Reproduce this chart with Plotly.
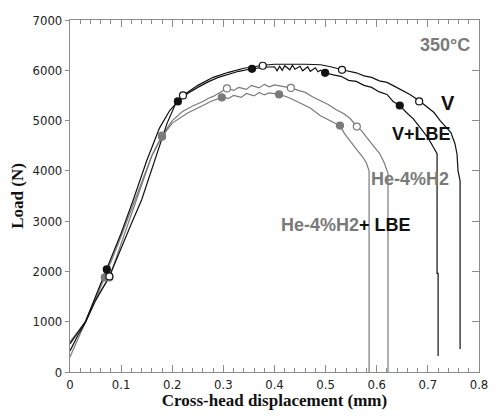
import plotly.graph_objects as go

# ---- data ----
v_x = [0, 0.015, 0.03, 0.05, 0.077, 0.10, 0.12, 0.14, 0.17, 0.19, 0.205, 0.221, 0.25, 0.28, 0.31, 0.34,
       0.36, 0.378, 0.40, 0.43, 0.46, 0.49, 0.51, 0.532, 0.56, 0.575, 0.59, 0.605, 0.62, 0.635, 0.65,
       0.665, 0.685, 0.70, 0.712, 0.724, 0.735, 0.745, 0.753, 0.757, 0.759, 0.763, 0.763]
v_y = [420, 720, 980, 1420, 1900, 2480, 2950, 3420, 4350, 4950, 5300, 5500, 5700, 5860, 5960, 6040,
       6070, 6100, 6120, 6125, 6120, 6110, 6070, 6010, 5950, 5890, 5860, 5790, 5760, 5680, 5600,
       5520, 5380, 5250, 5160, 5000, 4870, 4760, 4540, 4330, 4000, 3800, 456]
v_mx = [0.077, 0.221, 0.377, 0.532, 0.683]
v_my = [1900, 5500, 6090, 6010, 5380]

vl_x = [0, 0.015, 0.03, 0.05, 0.072, 0.10, 0.123, 0.15, 0.175, 0.195, 0.211, 0.23, 0.25, 0.27, 0.29,
        0.31, 0.33, 0.356, 0.38, 0.40, 0.405, 0.41, 0.415, 0.42, 0.43, 0.435, 0.44, 0.45, 0.455, 0.465,
        0.47, 0.48, 0.485, 0.49, 0.499, 0.515, 0.53, 0.545, 0.56, 0.575, 0.59, 0.605, 0.62, 0.632, 0.645,
        0.658, 0.671, 0.685, 0.70, 0.712, 0.718, 0.718, 0.720, 0.720]
vl_y = [560, 790, 1000, 1500, 2040, 2760, 3400, 4200, 4850, 5200, 5380, 5540, 5660, 5770, 5860,
        5920, 5980, 6030, 6060, 6070, 5990, 6080, 6000, 6090, 6010, 6100, 6020, 6080, 5990, 6070,
        5980, 6050, 5970, 6000, 5950, 5910, 5880, 5800, 5780, 5700, 5660, 5570, 5520, 5380, 5300,
        5160, 5040, 4860, 4660, 4450, 4340, 1960, 1960, 320]
vl_mx = [0.072, 0.211, 0.356, 0.499, 0.645]
vl_my = [2040, 5380, 6030, 5950, 5300]

he_x = [0, 0.015, 0.03, 0.05, 0.077, 0.10, 0.13, 0.16, 0.18, 0.20, 0.22, 0.24, 0.26, 0.27, 0.28,
        0.29, 0.307, 0.32, 0.33, 0.345, 0.355, 0.37, 0.38, 0.39, 0.40, 0.41, 0.432, 0.45, 0.46, 0.475,
        0.489, 0.505, 0.52, 0.535, 0.548, 0.561, 0.57, 0.58, 0.593, 0.606, 0.615, 0.622, 0.622]
he_y = [300, 650, 980, 1450, 1880, 2550, 3400, 4300, 4700, 5000, 5180, 5290, 5380, 5440, 5480,
        5540, 5640, 5600, 5660, 5620, 5700, 5650, 5720, 5670, 5710, 5690, 5650, 5590, 5560, 5470,
        5400, 5320, 5220, 5140, 5040, 4880, 4800, 4660, 4500, 4340, 4150, 3950, 0]
he_mx = [0.077, 0.18, 0.307, 0.432, 0.561]
he_my = [1880, 4700, 5640, 5650, 4880]

hl_x = [0, 0.015, 0.03, 0.05, 0.068, 0.10, 0.13, 0.16, 0.18, 0.20, 0.23, 0.25, 0.26, 0.275, 0.297,
        0.31, 0.32, 0.335, 0.345, 0.36, 0.37, 0.38, 0.39, 0.409, 0.425, 0.44, 0.455, 0.47, 0.489,
        0.508, 0.528, 0.537, 0.547, 0.56, 0.573, 0.58, 0.585, 0.585]
hl_y = [600, 800, 990, 1450, 1880, 2700, 3500, 4300, 4680, 4950, 5150, 5260, 5300, 5380, 5460,
        5440, 5500, 5460, 5540, 5490, 5560, 5510, 5550, 5520, 5470, 5400, 5320, 5250, 5100,
        5000, 4900, 4740, 4600, 4430, 4270, 4150, 4000, 0]
hl_mx = [0.068, 0.18, 0.297, 0.409, 0.528]
hl_my = [1880, 4680, 5460, 5520, 4900]

x_ticks = [0, 0.1, 0.2, 0.3, 0.4, 0.5, 0.6, 0.7, 0.8]
x_ticklabels = ["0", "0.1", "0.2", "0.3", "0.4", "0.5", "0.6", "0.7", "0.8"]
y_ticks = [0, 1000, 2000, 3000, 4000, 5000, 6000, 7000]

BLACK = "#111111"
GRAY = "#7a7a7a"
AX = "#8c8c8c"

fig = go.Figure()

series = [
    (he_x, he_y, he_mx, he_my, GRAY, "open"),
    (hl_x, hl_y, hl_mx, hl_my, GRAY, "filled"),
    (vl_x, vl_y, vl_mx, vl_my, BLACK, "filled"),
    (v_x, v_y, v_mx, v_my, BLACK, "open"),
]
for xs, ys, mx, my, col, kind in series:
    fig.add_trace(go.Scatter(x=xs, y=ys, mode="lines", line=dict(color=col, width=1.2),
                             showlegend=False, hoverinfo="skip"))
for xs, ys, mx, my, col, kind in series:
    fig.add_trace(go.Scatter(
        x=mx, y=my, mode="markers", showlegend=False, hoverinfo="skip",
        marker=dict(size=7, symbol="circle",
                    color="white" if kind == "open" else col,
                    line=dict(color=col, width=1.2))))

# invisible trace on right axis so it is drawn
fig.add_trace(go.Scatter(x=[0], y=[0], yaxis="y2", mode="markers",
                         marker=dict(opacity=0), showlegend=False, hoverinfo="skip"))

tickfont = dict(family="Liberation Sans Narrow, DejaVu Sans Condensed, Arial Narrow, sans-serif",
                size=13, color="#222")
titlefont = dict(family="Liberation Serif, Times New Roman, serif", size=17, color="#111")

# page body has an 8px default margin; figure is sized to fit inside the window
fig.update_layout(
    width=481, height=402,
    margin=dict(l=62, r=10, t=12, b=38),
    paper_bgcolor="white", plot_bgcolor="white",
    xaxis=dict(range=[0, 0.8], tickvals=x_ticks, ticktext=x_ticklabels,
               ticks="inside", ticklen=7, tickcolor=AX, tickwidth=1,
               minor=dict(dtick=0.02, ticks="inside", ticklen=4, tickcolor=AX),
               showline=True, linecolor=AX, linewidth=1.2, mirror="ticks",
               showgrid=False, zeroline=False, tickfont=tickfont, automargin=False,
               ticklabeloverflow="allow",
               title=dict(text="<b>Cross-head displacement (mm)</b>", font=titlefont, standoff=2)),
    yaxis=dict(range=[0, 7000], tickvals=y_ticks,
               ticks="outside", ticklen=4, tickcolor=AX,
               showline=True, linecolor=AX, linewidth=1.2, automargin=False,
               showgrid=False, zeroline=False, tickfont=tickfont, ticklabeloverflow="allow",
               title=dict(text="<b>Load (N)</b>", font=titlefont, standoff=8)),
    yaxis2=dict(range=[0, 7000], tickvals=y_ticks, overlaying="y", side="right",
                ticks="inside", ticklen=7, tickcolor=AX, showline=True, linecolor=AX,
                linewidth=1.2, showticklabels=False, showgrid=False, zeroline=False),
)

lab = dict(family="Liberation Sans, Arial, sans-serif", size=18)
fig.add_annotation(x=0.733, y=6510, text="<b>350°C</b>", showarrow=False,
                   font=dict(lab, color=GRAY))
fig.add_annotation(x=0.739, y=5340, text="<b>V</b>", showarrow=False,
                   font=dict(lab, color=BLACK, size=20))
fig.add_annotation(x=0.688, y=4740, text="<b>V+LBE</b>", showarrow=False,
                   font=dict(lab, color=BLACK))
fig.add_annotation(x=0.665, y=3830, text="<b>He-4%H2</b>", showarrow=False,
                   font=dict(lab, color=GRAY))
fig.add_annotation(x=0.54, y=2920,
                   text="<b><span style='color:%s'>He-4%%H2</span>+ LBE</b>" % GRAY,
                   showarrow=False, font=dict(lab, color=BLACK))

fig.write_html("out.html")
